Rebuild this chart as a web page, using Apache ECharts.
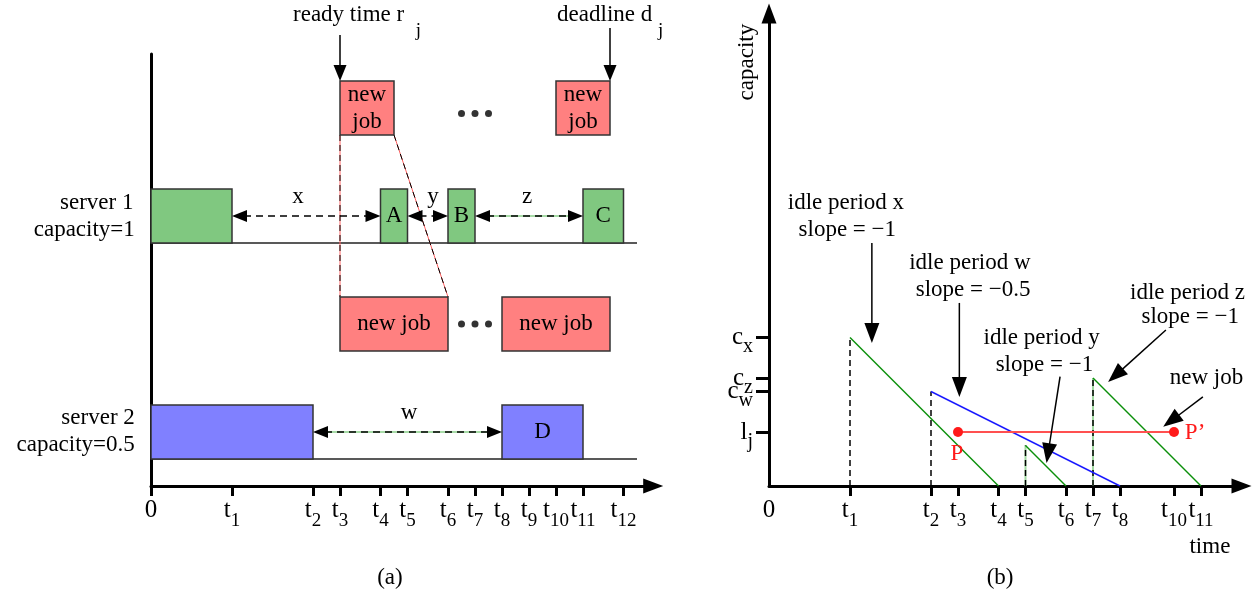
<!DOCTYPE html>
<html>
<head>
<meta charset="utf-8">
<title>idle periods and capacity</title>
<script src="https://cdn.jsdelivr.net/npm/echarts@6.0.0/dist/echarts.min.js"></script>
<style>
  html, body { margin: 0; padding: 0; background: #fff; }
  #main { width: 1259px; height: 598px; }
</style>
</head>
<body>
<div id="main"></div>
<script>
// time slots, the same in both panels
var aTickNames = ['0', 't1', 't2', 't3', 't4', 't5', 't6', 't7', 't8', 't9', 't10', 't11', 't12'];
var aTickTimes = [0, 3, 6, 7, 8.5, 9.5, 11, 12, 13, 14, 15, 16, 17.5];
var bTickNames = ['0', 't1', 't2', 't3', 't4', 't5', 't6', 't7', 't8', 't10', 't11'];
var bTickTimes = [0, 3, 6, 7, 8.5, 9.5, 11, 12, 13, 15, 16];

// (a) busy periods [start, end, label]
var server1Jobs = [[0, 3, ''], [8.5, 9.5, 'A'], [11, 12, 'B'], [16, 17.5, 'C']];
var server2Jobs = [[0, 6, ''], [13, 16, 'D']];
var newJobOn1 = [[7, 9], [15, 17]];
var newJobOn2 = [[7, 11], [13, 17]];
// idle periods [name, start, end]
var idle1 = [['x', 3, 8.5], ['y', 9.5, 11], ['z', 12, 16]];
var idle2 = [['w', 6, 13]];
var readyTime = 7;
var deadline = 17;

// (b) capacity levels on the y axis
var capLabels = [['c', 'x'], ['c', 'z'], ['c', 'w'], ['l', 'j'], ['c', 'y']];
var capValues = [5.5, 4, 3.5, 2, 1.5];
var lineX = [[3, 5.5], [8.5, 0]];
var lineW = [[6, 3.5], [13, 0]];
var lineY = [[9.5, 1.5], [11, 0]];
var lineZ = [[12, 4], [16, 0]];
var newJobLine = [[7, 2], [15, 2]];

var FONT = "'Liberation Serif', 'Times New Roman', serif";
var FS = 23;

// main text plus a lowered subscript
function rich(off, fs, subFs) {
  fs = fs || FS;
  var L = fs + 2 * off + 4;
  return {
    m: { fontSize: fs, fontFamily: FONT, lineHeight: L, verticalAlign: 'middle' },
    s: { fontSize: subFs || 17, fontFamily: FONT, lineHeight: L - 2 * off, verticalAlign: 'bottom' }
  };
}

function tickFmt(names, times) {
  return function (v) {
    for (var i = 0; i < times.length; i++) {
      if (Math.abs(times[i] - v) < 1e-6) {
        var n = names[i];
        return n === '0' ? '{m|0}' : '{m|t}{s|' + n.slice(1) + '}';
      }
    }
    return '';
  };
}

// labels: [text, x, y, align, color, rotate, subOffset]
var notesA = [
  ['server 1', -0.65, 10.48, 'right'],
  ['capacity=1', -0.6, 9.48, 'right'],
  ['server 2', -0.6, 2.52, 'right'],
  ['capacity=0.5', -0.6, 1.52, 'right'],
  ['x', 5.44, 10.7], ['y', 10.44, 10.7], ['z', 13.93, 10.7], ['w', 9.56, 2.7],
  ['{m|ready time r  }{s|j}', 5.26, 17.44, 'left', '#000', 0, 12],
  ['{m|deadline d }{s|j}', 15.04, 17.44, 'left', '#000', 0, 12],
  ['(a)', 8.85, -3.41]
];
var notesB = [
  ['capacity', -0.81, 15.7, 'center', '#000', 90],
  ['idle period x', 2.85, 10.5], ['slope = \u22121', 2.9, 9.48],
  ['idle period w', 7.44, 8.26], ['slope = \u22120.5', 7.56, 7.26],
  ['idle period y', 10.1, 5.48], ['slope = \u22121', 10.2, 4.48],
  ['idle period z', 15.5, 7.15], ['slope = \u22121', 15.6, 6.26],
  ['new job', 16.2, 4.0],
  ['P', 6.96, 1.2, 'center', '#ff1a1a'],
  ['P\u2019', 15.78, 1.96, 'center', '#ff1a1a'],
  ['time', 16.33, -2.26],
  ['(b)', 8.56, -3.4]
];
// pointer arrows in (b) [x0, y0, x1, y1]
var pointersB = [
  [3.81, 9.0, 3.81, 5.3], [7.05, 6.78, 7.05, 3.3], [10.78, 4.05, 10.28, 0.85],
  [14.7, 5.78, 12.56, 3.85], [16.07, 3.3, 14.6, 2.19]
];

function noteSeries(notes, g) {
  return {
    type: 'custom', coordinateSystem: 'cartesian2d', xAxisIndex: g, yAxisIndex: g,
    clip: false, silent: true, z: 10,
    data: notes.map(function (n) { return [n[1], n[2]]; }),
    renderItem: function (params, api) {
      var n = notes[params.dataIndex];
      var p = api.coord([n[1], n[2]]);
      return {
        type: 'text', x: p[0], y: p[1],
        rotation: (n[5] || 0) * Math.PI / 180,
        style: {
          text: n[0], fill: n[4] || '#000', fontSize: FS, fontFamily: FONT,
          align: n[3] || 'center', verticalAlign: 'middle', rich: rich(n[6] || 7, FS, 19)
        }
      };
    }
  };
}

function boxSeries(jobs, lo, hi, color, label) {
  return {
    type: 'custom', coordinateSystem: 'cartesian2d', xAxisIndex: 0, yAxisIndex: 0,
    clip: false, silent: true, z: 4,
    data: jobs.map(function (j) { return [j[0], lo]; }),
    renderItem: function (params, api) {
      var j = jobs[params.dataIndex];
      var a = api.coord([j[0], hi]), b = api.coord([j[1], lo]);
      return {
        type: 'group', children: [
          { type: 'rect', shape: { x: a[0], y: a[1], width: b[0] - a[0], height: b[1] - a[1] },
            style: { fill: color, stroke: '#333', lineWidth: 1.5 } },
          { type: 'text', x: (a[0] + b[0]) / 2, y: (a[1] + b[1]) / 2,
            style: { text: label || j[2] || '', fill: '#000', fontSize: FS, fontFamily: FONT,
                     align: 'center', verticalAlign: 'middle', lineHeight: 27 } }
        ]
      };
    }
  };
}

// rows: [x0, y0, x1, y1, bothEnds, underColor]
function arrowSeries(rows, g, o) {
  return {
    type: 'custom', coordinateSystem: 'cartesian2d', xAxisIndex: g, yAxisIndex: g,
    clip: false, silent: true, z: 6,
    data: rows.map(function (r) { return [r[0], r[1]]; }),
    renderItem: function (params, api) {
      var r = rows[params.dataIndex];
      var a = api.coord([r[0], r[1]]), b = api.coord([r[2], r[3]]);
      var dx = b[0] - a[0], dy = b[1] - a[1], d = Math.sqrt(dx * dx + dy * dy);
      var ux = dx / d, uy = dy / d, L = o.head[0], H = o.head[1];
      function tri(tip, sx, sy) {
        var bx = tip[0] - sx * L, by = tip[1] - sy * L;
        return { type: 'polygon', shape: { points: [tip, [bx - sy * H, by + sx * H], [bx + sy * H, by - sx * H]] },
                 style: { fill: '#000' } };
      }
      var s = r[4] ? [a[0] + ux * L * 0.8, a[1] + uy * L * 0.8] : a;
      var e = [b[0] - ux * L * 0.8, b[1] - uy * L * 0.8];
      var kids = [];
      if (r[5]) {
        kids.push({ type: 'line', shape: { x1: s[0], y1: s[1], x2: e[0], y2: e[1] },
                    style: { stroke: r[5], lineWidth: 2 } });
      }
      kids.push({ type: 'line', shape: { x1: s[0], y1: s[1], x2: e[0], y2: e[1] },
                  style: { stroke: '#000', lineWidth: o.width, lineDash: o.dash || null } });
      kids.push(tri(b, ux, uy));
      if (r[4]) kids.push(tri(a, -ux, -uy));
      return { type: 'group', children: kids };
    }
  };
}

function seg(data, g, color, width, dash, z) {
  return {
    type: 'line', xAxisIndex: g, yAxisIndex: g, data: data, symbol: 'none', showSymbol: false,
    silent: true, z: z || 2, lineStyle: { color: color, width: width, type: dash ? [6, 4] : 'solid' }
  };
}

function vertical(line) { return [[line[0][0], 0], line[0]]; }

var gapRows = idle1.map(function (p) { return [p[1], 10, p[2], 10, true, p[0] === 'z' ? '#a8dca8' : null]; })
  .concat(idle2.map(function (p) { return [p[1], 2, p[2], 2, true, '#a8dca8']; }));
var dropRows = [[readyTime, 16.7, readyTime, 15], [deadline, 16.96, deadline, 15]];
var pointerRows = pointersB.map(function (p) { return [p[0], p[1], p[2], p[3]]; });

var ellipsis = [];
[[newJobOn1, 13.8], [newJobOn2, 6.0]].forEach(function (row) {
  var mid = (row[0][0][1] + row[0][1][0]) / 2;
  [-0.5, 0, 0.5].forEach(function (d) { ellipsis.push([mid + d, row[1]]); });
});

var axisLineStyle = { color: '#000', width: 3 };
var chart = echarts.init(document.getElementById('main'));

chart.setOption({
  animation: false,
  backgroundColor: '#fff',
  textStyle: { fontFamily: FONT },
  grid: [
    { left: 151, top: 54, width: 18.6 * 27, height: 16 * 27, outerBoundsMode: 'none' },
    { left: 769, top: 13.5, width: 17.5 * 27, height: 17.5 * 27, outerBoundsMode: 'none' }
  ],
  xAxis: [
    {
      gridIndex: 0, type: 'value', min: 0, max: 18.6, splitLine: { show: false },
      axisLine: { show: true, lineStyle: axisLineStyle, symbol: ['none', 'triangle'], symbolSize: [15, 20] },
      axisTick: { show: true, customValues: aTickTimes, length: 10, lineStyle: axisLineStyle },
      axisLabel: { customValues: aTickTimes, formatter: tickFmt(aTickNames, aTickTimes), margin: 4,
                   color: '#000', fontFamily: FONT, fontSize: 24, rich: rich(6, 25, 19) }
    },
    {
      gridIndex: 1, type: 'value', min: 0, max: 17.5, splitLine: { show: false },
      axisLine: { show: true, lineStyle: axisLineStyle, symbol: ['none', 'triangle'], symbolSize: [15, 20] },
      axisTick: { show: true, customValues: bTickTimes.slice(1), length: 10, lineStyle: axisLineStyle },
      axisLabel: { customValues: bTickTimes, formatter: tickFmt(bTickNames, bTickTimes), margin: 4,
                   color: '#000', fontFamily: FONT, fontSize: 24, rich: rich(6, 25, 19) }
    }
  ],
  yAxis: [
    {
      gridIndex: 0, type: 'value', min: 0, max: 16, splitLine: { show: false },
      axisLine: { show: true, lineStyle: axisLineStyle },
      axisTick: { show: false }, axisLabel: { show: false }
    },
    {
      gridIndex: 1, type: 'value', min: 0, max: 17.5, splitLine: { show: false },
      axisLine: { show: true, lineStyle: axisLineStyle, symbol: ['none', 'triangle'], symbolSize: [15, 20] },
      axisTick: { show: true, customValues: capValues, length: 13, lineStyle: axisLineStyle },
      axisLabel: {
        customValues: capValues, margin: 16, color: '#000', fontFamily: FONT, fontSize: 24, rich: rich(5, 25, 20),
        formatter: function (v) {
          var i = capValues.indexOf(v);
          return i < 0 ? '' : '{m|' + capLabels[i][0] + '}{s|' + capLabels[i][1] + '}';
        }
      }
    }
  ],
  series: [
    // (a) server time lines
    seg([[0, 9], [18, 9]], 0, '#222', 1.5, false, 3),
    seg([[0, 1], [18, 1]], 0, '#222', 1.5, false, 3),
    // new job projected from server 1 to server 2
    seg([[newJobOn1[0][0], 13], [newJobOn2[0][0], 7]], 0, '#ff6060', 1, false, 3),
    seg([[newJobOn1[0][1], 13], [newJobOn2[0][1], 7]], 0, '#ff6060', 1, false, 3),
    seg([[newJobOn1[0][0], 13], [newJobOn2[0][0], 7]], 0, '#000', 1, true, 3),
    seg([[newJobOn1[0][1], 13], [newJobOn2[0][1], 7]], 0, '#000', 1, true, 3),
    boxSeries(server1Jobs, 9, 11, '#80c880'),
    boxSeries(server2Jobs, 1, 3, '#8080ff'),
    boxSeries(newJobOn1, 13, 15, '#ff8080', 'new\njob'),
    boxSeries(newJobOn2, 5, 7, '#ff8080', 'new job'),
    arrowSeries(gapRows, 0, { head: [15, 6], width: 1.5, dash: [7, 5] }),
    arrowSeries(dropRows, 0, { head: [16, 6.5], width: 1.5 }),
    {
      type: 'scatter', xAxisIndex: 0, yAxisIndex: 0, data: ellipsis, symbol: 'circle', symbolSize: 7,
      itemStyle: { color: '#000' }, silent: true, z: 5
    },
    noteSeries(notesA, 0),

    // (b) idle-period start markers
    seg(vertical(lineX), 1, '#000', 1.5, true, 2),
    seg(vertical(lineW), 1, '#000', 1.5, true, 2),
    seg(vertical(lineY), 1, '#9fd89f', 2, false, 2),
    seg(vertical(lineZ), 1, '#9fd89f', 2, false, 2),
    seg(vertical(lineY), 1, '#000', 1.5, true, 2),
    seg(vertical(lineZ), 1, '#000', 1.5, true, 2),
    // remaining capacity over time
    seg(lineX, 1, '#0a8f0a', 1.5, false, 3),
    seg(lineY, 1, '#0a8f0a', 1.5, false, 3),
    seg(lineZ, 1, '#0a8f0a', 1.5, false, 3),
    seg(lineW, 1, '#1a1aff', 1.5, false, 3),
    {
      type: 'line', xAxisIndex: 1, yAxisIndex: 1, data: newJobLine, symbol: 'circle', symbolSize: 10,
      showSymbol: true, silent: true, z: 4,
      itemStyle: { color: '#ff1a1a' }, lineStyle: { color: '#ff5050', width: 2 }
    },
    arrowSeries(pointerRows, 1, { head: [20, 7.5], width: 1.5 }),
    noteSeries(notesB, 1)
  ]
});
</script>
</body>
</html>
